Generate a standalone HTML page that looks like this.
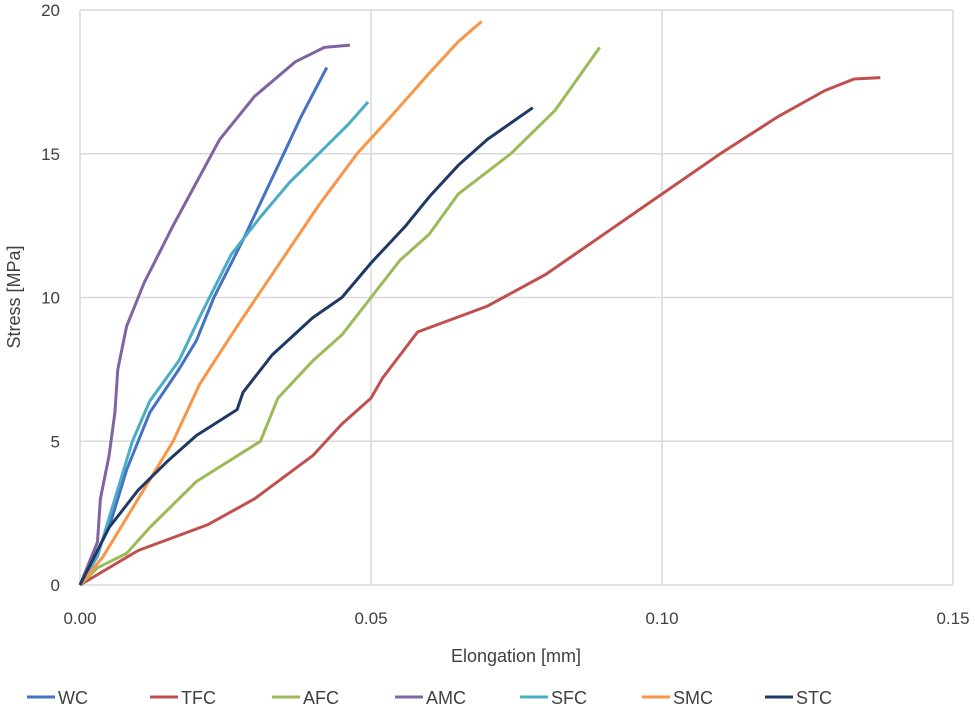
<!DOCTYPE html>
<html><head><meta charset="utf-8"><style>
body{margin:0;background:#fff;width:975px;height:713px;overflow:hidden;font-family:"Liberation Sans",sans-serif}
svg text{font-family:"Liberation Sans",sans-serif;fill:#404040}
</style></head><body>
<svg id="chart" width="975" height="713"></svg>
<script>
const xTicks=[0,0.05,0.10,0.15];
const xTickLabels=["0.00","0.05","0.10","0.15"];
const yTicks=[0,5,10,15,20];
const seriesNames=["WC","TFC","AFC","AMC","SFC","SMC","STC"];
const seriesColors=["#4472C4","#C0504D","#9BBB59","#8064A2","#4BACC6","#F79646","#1F3864"];
const wcX=[0,0.002,0.005,0.008,0.012,0.017,0.02,0.023,0.028,0.0315,0.035,0.038,0.0424];
const wcY=[0,0.8,2,4,6,7.5,8.5,10,12,13.5,15,16.3,18];
const tfcX=[0,0.01,0.022,0.03,0.04,0.045,0.05,0.052,0.058,0.07,0.08,0.09,0.1,0.11,0.12,0.128,0.133,0.1375];
const tfcY=[0,1.2,2.1,3,4.5,5.6,6.5,7.2,8.8,9.7,10.8,12.2,13.6,15,16.3,17.2,17.6,17.65];
const afcX=[0,0.003,0.008,0.012,0.02,0.031,0.034,0.04,0.045,0.05,0.055,0.06,0.065,0.074,0.0816,0.0893];
const afcY=[0,0.6,1.1,2,3.6,5,6.5,7.8,8.7,10,11.3,12.2,13.6,15,16.5,18.7];
const amcX=[0,0.003,0.0035,0.005,0.006,0.0065,0.008,0.011,0.016,0.02,0.024,0.03,0.037,0.042,0.0464];
const amcY=[0,1.5,3,4.5,6,7.5,9,10.5,12.5,14,15.5,17,18.2,18.7,18.78];
const sfcX=[0,0.003,0.006,0.009,0.012,0.017,0.021,0.026,0.031,0.036,0.041,0.046,0.0495];
const sfcY=[0,1,3,5,6.4,7.8,9.5,11.5,12.8,14,15,16,16.8];
const smcX=[0,0.004,0.01,0.016,0.0206,0.027,0.035,0.041,0.0476,0.053,0.06,0.065,0.069];
const smcY=[0,1,3,5,7,9,11.4,13.2,15,16.2,17.8,18.9,19.6];
const stcX=[0,0.005,0.01,0.015,0.02,0.027,0.028,0.033,0.04,0.045,0.05,0.056,0.06,0.065,0.07,0.0778];
const stcY=[0,2,3.3,4.3,5.2,6.1,6.7,8,9.3,10,11.2,12.5,13.5,14.6,15.5,16.6];
const allX=[wcX,tfcX,afcX,amcX,sfcX,smcX,stcX];
const allY=[wcY,tfcY,afcY,amcY,sfcY,smcY,stcY];

const NS="http://www.w3.org/2000/svg";
const svg=document.getElementById('chart');
const L=80,R=953,T=10,B=585;
const sx=v=>L+(v/0.15)*(R-L);
const sy=v=>B-(v/20)*(B-T);
function mk(tag,attrs,txt){const e=document.createElementNS(NS,tag);for(const k in attrs)e.setAttribute(k,attrs[k]);if(txt!==undefined)e.textContent=txt;svg.appendChild(e);return e;}
yTicks.forEach(v=>{
  const g=mk('line',{x1:L,x2:R,y1:sy(v),y2:sy(v),stroke:'#d9d9d9','stroke-width':1.5});
  
  
  const t=mk('text',{x:60,y:sy(v)+6,'text-anchor':'end','font-size':17},String(v));
  
  
});
xTicks.forEach((v,i)=>{
  if(i>0){const g=mk('line',{x1:sx(v),x2:sx(v),y1:T,y2:B,stroke:'#d9d9d9','stroke-width':1.5});
  
  }
  const t=mk('text',{x:sx(v),y:624,'text-anchor':'middle','font-size':17},xTickLabels[i]);
  
  
});
const ax=mk('line',{x1:L,x2:L,y1:T,y2:B,stroke:'#d9d9d9','stroke-width':1.5});


const xt=mk('text',{x:516,y:662,'text-anchor':'middle','font-size':18},'Elongation [mm]');


const yt=mk('text',{x:0,y:0,'text-anchor':'middle','font-size':18,transform:'translate(20,297) rotate(-90)'},'Stress [MPa]');


allX.forEach((xs,i)=>{
  const d=xs.map((x,j)=>(j?'L':'M')+sx(x).toFixed(1)+','+sy(allY[i][j]).toFixed(1)).join(' ');
  const p=mk('path',{d:d,fill:'none',stroke:seriesColors[i],'stroke-width':3,'stroke-linejoin':'round'});
  
  
});
const legX=[27,150,272,395,520,642,765];
seriesNames.forEach((n,i)=>{
  const l=mk('line',{x1:legX[i],x2:legX[i]+28,y1:697,y2:697,stroke:seriesColors[i],'stroke-width':3});
  
  
  const t=mk('text',{x:legX[i]+31,y:704,'font-size':18},n);
  
  
});
</script>
</body></html>
